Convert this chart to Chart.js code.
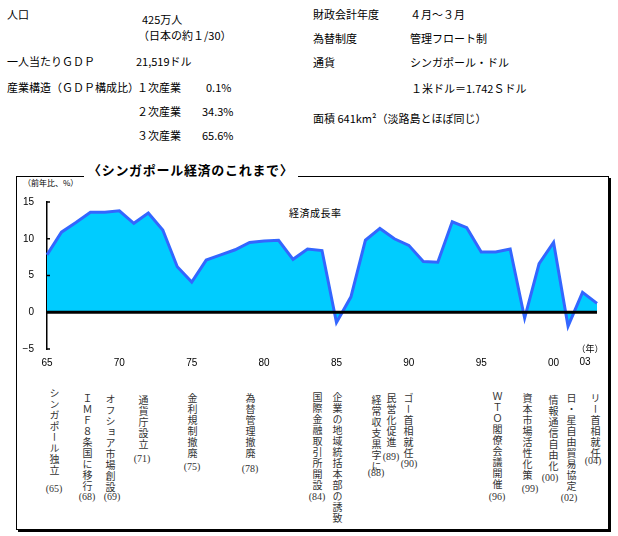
<!DOCTYPE html>
<html lang="ja">
<head>
<meta charset="utf-8">
<title>シンガポール経済のこれまで</title>
<script src="https://cdn.jsdelivr.net/npm/chart.js@4.4.1/dist/chart.umd.min.js"></script>
<style>
  body { margin: 0; width: 618px; height: 536px; position: relative; overflow: hidden; background: #fff; color: #000;
         font-family: "Noto Sans CJK JP", sans-serif; }
  .t { position: absolute; font-size: 11px; line-height: 16px; white-space: nowrap; }
  .box { position: absolute; left: 16px; top: 176px; width: 593px; height: 354px; box-sizing: border-box;
         border: 1px solid #000; box-shadow: 2px 2px 0 #000; }
  .title { position: absolute; left: 84px; top: 161px; padding: 0 4px; background: #fff; font-size: 13px;
           font-weight: bold; letter-spacing: 0.7px; line-height: 18px; white-space: nowrap; }
  .unit { position: absolute; left: 23px; top: 177px; font-size: 8px; line-height: 12px; white-space: nowrap; }
  .series { position: absolute; left: 289px; top: 205px; font-size: 10px; letter-spacing: 0.5px; line-height: 16px; }
  #wrap { position: absolute; left: 0; top: 176px; width: 618px; height: 200px; }
  .ev { position: absolute; writing-mode: vertical-rl; text-orientation: upright; font-size: 10px;
        letter-spacing: 1px; line-height: 12px; width: 12px; color: #333; white-space: nowrap; }
  .evy { position: absolute; font-family: "Liberation Serif", serif; font-size: 10px; line-height: 12px;
         width: 30px; text-align: center; color: #333; }
</style>
</head>
<body>
<div id="info"></div>
<div class="box"></div>
<div class="title">〈シンガポール経済のこれまで〉</div>
<div class="unit">（前年比、%）</div>
<div class="series">経済成長率</div>
<div id="wrap"><canvas id="growthChart"></canvas></div>
<div id="events"></div>
<script>
// 実質GDP成長率 (前年比, %)
const years = ['1965', '1966', '1967', '1968', '1969', '1970', '1971', '1972', '1973', '1974',
               '1975', '1976', '1977', '1978', '1979', '1980', '1981', '1982', '1983', '1984',
               '1985', '1986', '1987', '1988', '1989', '1990', '1991', '1992', '1993', '1994',
               '1995', '1996', '1997', '1998', '1999', '2000', '2001', '2002', '2003'];
const growth = [7.8, 10.9, 12.2, 13.6, 13.6, 13.8, 12.1, 13.5, 11.2, 6.2,
                4.1, 7.1, 7.8, 8.5, 9.5, 9.7, 9.8, 7.2, 8.6, 8.4,
                -1.4, 2.1, 9.8, 11.4, 10.0, 9.1, 6.9, 6.8, 12.3, 11.5,
                8.2, 8.2, 8.6, -0.8, 6.6, 9.5, -1.9, 2.7, 1.2];
const tickYears = ['1965', '1970', '1975', '1980', '1985', '1990', '1995', '2000'];
const yTicks = [-5, 0, 5, 10, 15];

// 主な出来事
const events = ['シンガポール独立', 'ＩＭＦ８条国に移行', 'オフショア市場創設', '通貨庁設立', '金利規制撤廃',
                '為替管理撤廃', '国際金融取引所開設', '企業の地域統括本部の誘致', '経常収支黒字に', '民営化促進',
                'ゴー首相就任', 'ＷＴＯ閣僚会議開催', '資本市場活性化策', '情報通信自由化', '日・星自由貿易協定',
                'リー首相就任'];
const eventYears = ['(65)', '(68)', '(69)', '(71)', '(75)', '(78)', '(84)', '', '(88)', '(89)',
                    '(90)', '(96)', '(99)', '(00)', '(02)', '(04)'];

// 基本データ (text, x, y-center)
const info = [
  ['人口', 7, 14], ['425万人', 142, 19], ['（日本の約１/30）', 138, 35],
  ['一人当たりＧＤＰ', 7, 61], ['21,519ドル', 136, 61],
  ['産業構造（ＧＤＰ構成比）', 7, 87], ['１次産業', 137, 87], ['0.1%', 206, 87],
  ['２次産業', 137, 111], ['34.3%', 202, 111], ['３次産業', 137, 135], ['65.6%', 202, 135],
  ['財政会計年度', 313, 14], ['４月～３月', 410, 14],
  ['為替制度', 313, 38], ['管理フロート制', 410, 38],
  ['通貨', 313, 62], ['シンガポール・ドル', 410, 62],
  ['１米ドル＝1.742Ｓドル', 411, 88],
  ['面積  641km²（淡路島とほぼ同じ）', 313, 118]
];

// annotation layout: [column centre x, text top, year label centre x, year label centre y]
const eventPos = [
  [54, 388, 54, 489], [87, 393, 87, 497], [110, 394, 112, 497], [143, 395, 142, 459],
  [192, 393, 192, 467], [250, 393, 250, 469], [317, 392, 317, 497], [337, 392, 337, 0],
  [376, 395, 376, 473], [391, 393, 391, 457], [408, 393, 409, 464], [497, 391, 497, 497],
  [527, 393, 530, 489], [553, 395, 550, 478], [571, 393, 569, 498], [595, 393, 593, 461]
];

const infoEl = document.getElementById('info');
info.forEach(([txt, x, y]) => {
  const d = document.createElement('div');
  d.className = 't';
  d.style.left = x + 'px';
  d.style.top = (y - 8) + 'px';
  d.textContent = txt;
  infoEl.appendChild(d);
});

const evEl = document.getElementById('events');
events.forEach((txt, i) => {
  const [cx, top, yx, yy] = eventPos[i];
  const d = document.createElement('div');
  d.className = 'ev';
  d.style.left = (cx - 6) + 'px';
  d.style.top = top + 'px';
  d.textContent = txt;
  evEl.appendChild(d);
  if (eventYears[i]) {
    const y = document.createElement('div');
    y.className = 'evy';
    y.style.left = (yx - 15) + 'px';
    y.style.top = (yy - 6) + 'px';
    y.textContent = eventYears[i];
    evEl.appendChild(y);
  }
});

// inward y ticks, thick zero line, last year label
const decorPlugin = {
  id: 'decor',
  afterDatasetsDraw(chart) {
    const { ctx, chartArea, scales: { x, y } } = chart;
    ctx.save();
    ctx.strokeStyle = '#000';
    ctx.lineWidth = 3;
    const y0 = y.getPixelForValue(0);
    ctx.beginPath();
    ctx.moveTo(chartArea.left, y0);
    ctx.lineTo(chartArea.right, y0);
    ctx.stroke();
    ctx.lineWidth = 1.5;
    yTicks.forEach(v => {
      const py = y.getPixelForValue(v);
      ctx.beginPath();
      ctx.moveTo(chartArea.left, py);
      ctx.lineTo(chartArea.left + 3, py);
      ctx.stroke();
    });
    const lastX = x.getPixelForValue(years.length - 1);
    ctx.fillStyle = '#000';
    ctx.textAlign = 'center';
    ctx.textBaseline = 'middle';
    ctx.font = '10px "Liberation Sans Narrow", "Liberation Sans", sans-serif';
    ctx.fillText(years[years.length - 1].slice(2), lastX - 12, chartArea.bottom + 13);
    ctx.font = '9px "Noto Sans CJK JP", sans-serif';
    ctx.fillText('（年）', lastX - 7, chartArea.bottom);
    ctx.restore();
  }
};

const ctx = document.getElementById('growthChart').getContext('2d');
const growthChart = new Chart(ctx, {
  type: 'line',
  data: {
    labels: years,
    datasets: [{
      label: '経済成長率',
      data: growth,
      borderColor: '#3366ff',
      borderWidth: 3,
      backgroundColor: '#00ccff',
      fill: 'origin',
      pointRadius: 0,
      tension: 0
    }]
  },
  options: {
    responsive: true,
    maintainAspectRatio: false,
    animation: false,
    layout: { padding: { top: 26, right: 21, left: 0, bottom: 0 } },
    plugins: {
      legend: { display: false },
      tooltip: { enabled: false }
    },
    scales: {
      x: {
        grid: { display: false, drawTicks: false },
        border: { display: false },
        ticks: {
          autoSkip: false,
          maxRotation: 0,
          minRotation: 0,
          padding: 8,
          color: '#000',
          font: { size: 10, family: '"Liberation Sans Narrow", "Liberation Sans", sans-serif' },
          callback: function(value) {
            const yr = this.getLabelForValue(value);
            return tickYears.includes(yr) ? yr.slice(2) : '';
          }
        },
        afterFit: function(scale) { scale.height = 27; }
      },
      y: {
        min: -5,
        max: 15,
        grid: { display: false, drawTicks: false },
        border: { display: true, color: '#000', width: 1.5 },
        afterBuildTicks: function(scale) { scale.ticks = yTicks.map(v => ({ value: v })); },
        ticks: {
          padding: 13,
          color: '#000',
          font: { size: 10, family: '"Liberation Sans Narrow", "Liberation Sans", sans-serif' },
          callback: v => (v < 0 ? '\u2212' + Math.abs(v) : v)
        },
        afterFit: function(scale) { scale.width = 47; }
      }
    }
  },
  plugins: [decorPlugin]
});
</script>
</body>
</html>
